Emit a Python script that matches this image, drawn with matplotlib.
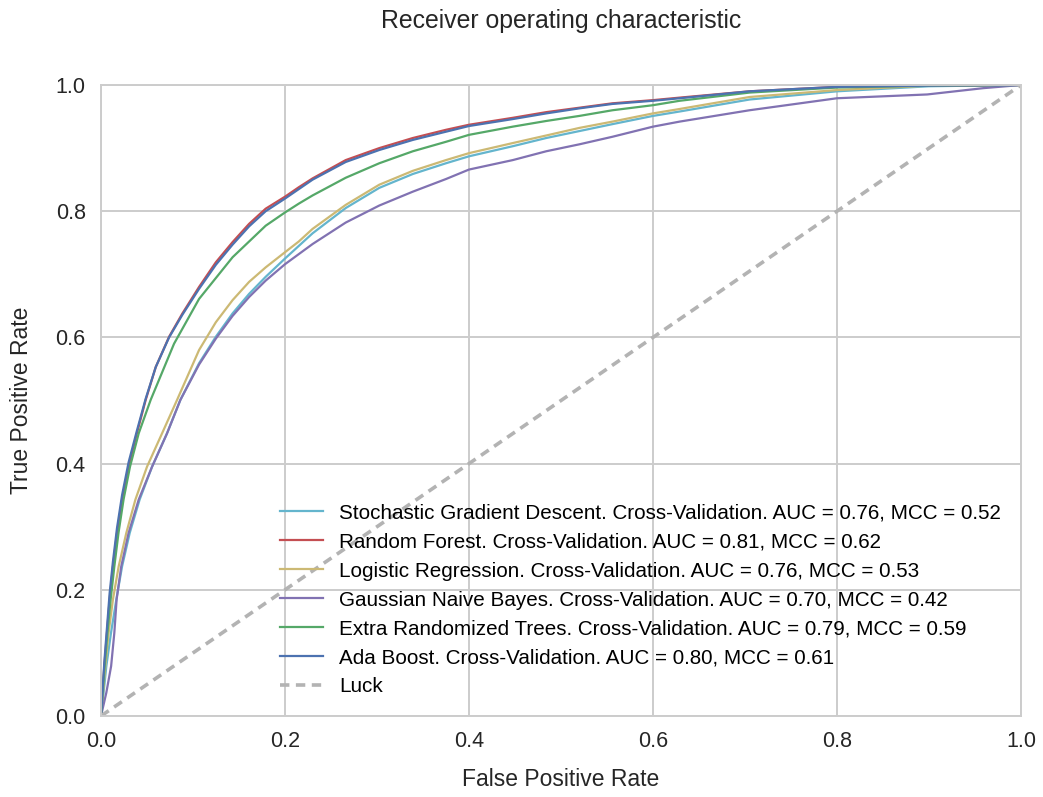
import matplotlib
matplotlib.use("Agg")
import matplotlib.pyplot as plt
import numpy as np

plt.rcParams['font.family'] = ['Liberation Sans', 'DejaVu Sans']

labels = [
    "Stochastic Gradient Descent. Cross-Validation. AUC = 0.76, MCC = 0.52",
    "Random Forest. Cross-Validation. AUC = 0.81, MCC = 0.62",
    "Logistic Regression. Cross-Validation. AUC = 0.76, MCC = 0.53",
    "Gaussian Naive Bayes. Cross-Validation. AUC = 0.70, MCC = 0.42",
    "Extra Randomized Trees. Cross-Validation. AUC = 0.79, MCC = 0.59",
    "Ada Boost. Cross-Validation. AUC = 0.80, MCC = 0.61",
]
colors = ["#64B5CD", "#C44E52", "#CCB974", "#8172B2", "#55A868", "#4C72B0"]

sgd_fpr = [0, 0.003, 0.0058, 0.0109, 0.0167, 0.0229, 0.0312, 0.042, 0.0555, 0.0718, 0.0863, 0.1066, 0.1248, 0.143, 0.161, 0.179,
           0.2, 0.215, 0.230, 0.266, 0.3025, 0.339, 0.375, 0.4, 0.4476, 0.484, 0.520, 0.556, 0.6, 0.629, 0.705, 0.8, 0.9, 1.0]
sgd_tpr = [0, 0.04, 0.079, 0.132, 0.185, 0.237, 0.290, 0.343, 0.395, 0.448, 0.501, 0.559, 0.601, 0.638, 0.669, 0.696,
           0.725, 0.745, 0.765, 0.805, 0.837, 0.859, 0.876, 0.887, 0.903, 0.916, 0.927, 0.938, 0.951, 0.958, 0.977, 0.990, 0.998, 1.0]

rf_fpr = [0, 0.0036, 0.0065, 0.0094, 0.013, 0.0174, 0.0229, 0.030, 0.039, 0.0486, 0.0595, 0.074, 0.0885, 0.1066, 0.1248, 0.143,
          0.161, 0.179, 0.2, 0.215, 0.230, 0.266, 0.3025, 0.339, 0.375, 0.4, 0.4476, 0.484, 0.520, 0.556, 0.6, 0.629, 0.705, 0.8, 0.9, 1.0]
rf_tpr = [0, 0.079, 0.132, 0.185, 0.237, 0.290, 0.343, 0.395, 0.448, 0.501, 0.553, 0.601, 0.638, 0.680, 0.719, 0.751,
          0.780, 0.804, 0.823, 0.838, 0.852, 0.881, 0.900, 0.916, 0.929, 0.937, 0.948, 0.957, 0.964, 0.971, 0.976, 0.980, 0.990, 0.997, 0.999, 1.0]

lr_fpr = [0, 0.0047, 0.0083, 0.013, 0.0192, 0.0275, 0.0374, 0.050, 0.0664, 0.0827, 0.1066, 0.1248, 0.143, 0.161, 0.179,
          0.2, 0.215, 0.230, 0.266, 0.3025, 0.339, 0.375, 0.4, 0.4476, 0.484, 0.520, 0.556, 0.6, 0.629, 0.705, 0.8, 0.9, 1.0]
lr_tpr = [0, 0.079, 0.132, 0.185, 0.237, 0.290, 0.343, 0.395, 0.448, 0.501, 0.580, 0.624, 0.659, 0.688, 0.711,
          0.735, 0.752, 0.772, 0.810, 0.842, 0.864, 0.881, 0.892, 0.908, 0.920, 0.932, 0.942, 0.955, 0.962, 0.981, 0.992, 0.999, 1.0]

gnb_fpr = [0, 0.0058, 0.011, 0.0145, 0.017, 0.022, 0.030, 0.041, 0.0555, 0.0718, 0.0863, 0.1066, 0.1248, 0.143, 0.161, 0.179,
           0.2, 0.215, 0.230, 0.266, 0.3025, 0.339, 0.375, 0.4, 0.4476, 0.484, 0.520, 0.556, 0.6, 0.629, 0.705, 0.8, 0.898, 0.959, 1.0]
gnb_tpr = [0, 0.037, 0.079, 0.132, 0.185, 0.237, 0.290, 0.343, 0.395, 0.448, 0.501, 0.557, 0.598, 0.634, 0.664, 0.690,
           0.716, 0.732, 0.748, 0.782, 0.809, 0.831, 0.851, 0.866, 0.881, 0.895, 0.906, 0.918, 0.934, 0.942, 0.960, 0.979, 0.985, 0.995, 1.0]

et_fpr = [0, 0.004, 0.007, 0.0105, 0.0145, 0.019, 0.0245, 0.0315, 0.041, 0.054, 0.0794, 0.1066, 0.143, 0.179,
          0.2, 0.215, 0.230, 0.266, 0.3025, 0.339, 0.375, 0.4, 0.4476, 0.484, 0.520, 0.556, 0.6, 0.629, 0.705, 0.8, 0.9, 1.0]
et_tpr = [0, 0.079, 0.132, 0.185, 0.237, 0.290, 0.343, 0.395, 0.448, 0.501, 0.590, 0.661, 0.727, 0.777,
          0.798, 0.812, 0.825, 0.853, 0.876, 0.895, 0.910, 0.921, 0.934, 0.943, 0.951, 0.960, 0.968, 0.975, 0.988, 0.996, 0.999, 1.0]

ada_fpr = rf_fpr
ada_tpr = [0, 0.085, 0.140, 0.195, 0.245, 0.298, 0.350, 0.402, 0.452, 0.503, 0.553, 0.600, 0.636, 0.677, 0.715, 0.747,
           0.776, 0.800, 0.820, 0.835, 0.850, 0.878, 0.897, 0.913, 0.926, 0.935, 0.946, 0.955, 0.963, 0.970, 0.975, 0.979, 0.990, 0.997, 0.999, 1.0]

luck_x = [0, 1]
luck_y = [0, 1]

series = [(sgd_fpr, sgd_tpr), (rf_fpr, rf_tpr), (lr_fpr, lr_tpr),
          (gnb_fpr, gnb_tpr), (et_fpr, et_tpr), (ada_fpr, ada_tpr)]

W, H = 1043, 797
fig = plt.figure(figsize=(W / 100, H / 100), dpi=100)
ax = fig.add_axes([101 / W, (H - 716) / H, 920 / W, 631 / H])

for (fx, ty), lab, c in zip(series, labels, colors):
    ax.plot(fx, ty, color=c, lw=1.6, label=lab)
ax.plot(luck_x, luck_y, linestyle='--', color='#b3b3b3', lw=2.6, dashes=(2.6, 1.8), label='Luck')

ax.set_xlim(0, 1)
ax.set_ylim(0, 1)
ax.set_xticks(np.arange(0, 1.01, 0.2))
ax.set_yticks(np.arange(0, 1.01, 0.2))
ax.xaxis.set_major_formatter(matplotlib.ticker.FormatStrFormatter('%.1f'))
ax.yaxis.set_major_formatter(matplotlib.ticker.FormatStrFormatter('%.1f'))
ax.grid(True, color='#cccccc', lw=1.4)
ax.set_axisbelow(True)
for s in ax.spines.values():
    s.set_color('#cccccc')
    s.set_linewidth(1.4)
ax.tick_params(length=0, pad=11, labelsize=15.5, colors='#262626')

ax.set_title("Receiver operating characteristic", fontsize=17.9, color='#262626', pad=41)
ax.set_xlabel("False Positive Rate", fontsize=16.5, color='#262626', labelpad=11)
ax.set_ylabel("True Positive Rate", fontsize=16.5, color='#262626', labelpad=16)

ax.legend(loc='lower right', frameon=False, fontsize=14.9, handlelength=2.05,
          handletextpad=0.8, labelspacing=0.48, borderaxespad=0.55)

fig.savefig("out.png", dpi=100)
